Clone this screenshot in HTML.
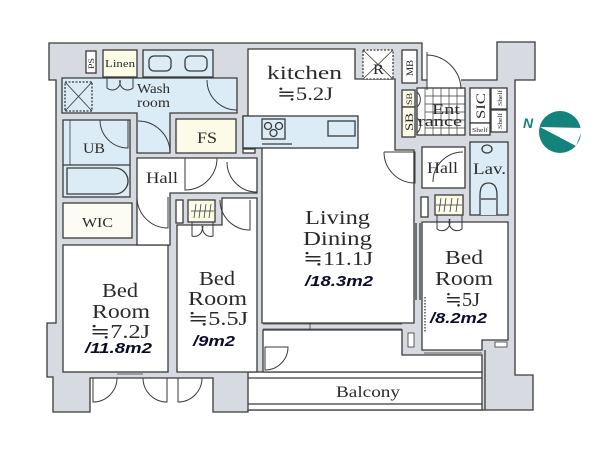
<!DOCTYPE html>
<html><head><meta charset="utf-8"><style>
html,body{margin:0;padding:0;background:#fff;}
svg{display:block;}
.s{font-family:"Liberation Serif","DejaVu Serif","Noto Serif CJK SC",serif;fill:#2a2a2a;}
.m{font-family:"Liberation Sans","DejaVu Sans",sans-serif;font-weight:bold;font-style:italic;fill:#0b0b2e;}
</style></head><body>
<svg width="602" height="458" viewBox="0 0 602 458" xmlns="http://www.w3.org/2000/svg">
<rect width="602" height="458" fill="#fff"/>
<g stroke="#3a3a3a" stroke-width="1.3">
<polygon fill="#d7dae1" points="49,43 422,43 422,80 497,80 497,42 535,42 535,80 515,80 515,375 533,375 533,410 248,410 248,412 213,412 213,378 90,378 90,412 53,412 53,377 47,377 47,323 56,323 56,80 49,80"/>
<rect x="427" y="79" width="34" height="10" fill="#fff" stroke="none"/>
<rect x="248" y="372" width="234" height="38" fill="#fff"/>
<line x1="248" y1="378" x2="482" y2="378"/>
<line x1="248" y1="404" x2="482" y2="404"/>
<polygon fill="#fff" points="263,330 402,330 402,355 482,355 482,372 263,372"/>
<line x1="485" y1="350" x2="485" y2="410"/>

<rect x="86" y="51" width="10" height="22" fill="#fff"/>
<rect x="103" y="50" width="34" height="27" fill="#fbfbe8"/>
<rect x="143" y="50" width="70" height="27" fill="#dcecf7"/>
<rect x="149" y="56" width="22" height="15" rx="5" fill="#dcecf7"/>
<rect x="185" y="56" width="22" height="15" rx="5" fill="#dcecf7"/>
<polygon fill="#dcecf7" points="62,78 237,78 237,113 170,113 170,153 137,153 137,113 62,113"/>
<rect x="65" y="82" width="27" height="29" fill="none" stroke-dasharray="2,1.5"/>
<path d="M65,82 L92,111 M92,82 L65,111" fill="none" stroke-width="0.9"/>
<rect x="63" y="120" width="67" height="77" fill="#dcecf7"/>
<line x1="63" y1="165" x2="130" y2="165"/>
<line x1="70" y1="120" x2="70" y2="165" stroke-width="0.8"/>
<path d="M67,168 H115 A13,13 0 0 1 115,194 H67 Z" fill="#dcecf7"/>
<rect x="63" y="203" width="69" height="35" fill="#fcfcf3"/>
<line x1="73" y1="247" x2="100" y2="247" stroke-dasharray="3,2"/>
<rect x="63" y="245" width="105" height="127" fill="#fff"/>
<polygon fill="#fff" points="137,158 257,158 257,193 170,193 170,245 137,245"/>
<polygon fill="#fff" points="222,198 257,198 257,372 177,372 177,225 222,225"/>
<rect x="176" y="200" width="7" height="23" fill="#fff"/>
<rect x="188" y="200" width="27" height="22" fill="#fbfbe8"/>
<rect x="176" y="119" width="60" height="34" fill="#fbfbe8"/>
<rect x="243" y="149" width="12" height="4" fill="#fff"/>
<polygon fill="#fff" points="248,49 355,49 355,79 395,79 395,150 414,150 414,323 262,323 262,148 243,148 243,116 248,116"/>
<rect x="243" y="116" width="115" height="32" fill="#dcecf7"/>
<rect x="262" y="119" width="23" height="20" fill="#dcecf7"/>
<circle cx="268" cy="126" r="3.5" fill="none"/><circle cx="279" cy="126" r="3.5" fill="none"/><circle cx="273.5" cy="133" r="3.5" fill="none"/>
<rect x="328" y="121" width="27" height="15" fill="#dcecf7"/>
<line x1="262" y1="144" x2="292" y2="144"/>
<rect x="363" y="50" width="30" height="29" fill="#fff" stroke-dasharray="2,1.5"/>
<path d="M363,50 L393,79 M393,50 L363,79" fill="none" stroke-width="0.8"/>
<rect x="402" y="50" width="15" height="33" fill="#fff"/>
<rect x="402" y="90" width="13" height="17" fill="#fbfbe8"/>
<rect x="402" y="107" width="13" height="30" fill="#fbfbe8"/>
<rect x="417" y="88" width="48" height="47" fill="#fff"/>
<g stroke-width="0.7" fill="none">
<path d="M425,96 H465 M425,104 H465 M425,112 H465 M425,120 H465 M425,128 H465 M433,88 V135 M441,88 V135 M449,88 V135 M457,88 V135 M425,88 V135"/>
</g>
<rect x="470" y="88" width="20" height="35" fill="#fff"/>
<rect x="491" y="88" width="16" height="21" fill="#fff"/>
<rect x="491" y="110" width="16" height="22" fill="#fff"/>
<rect x="470" y="123" width="20" height="12" fill="#fff"/>
<rect x="422" y="147" width="43" height="41" fill="#fff"/>
<rect x="470" y="142" width="38" height="73" fill="#dcecf7"/>
<ellipse cx="487" cy="149" rx="5" ry="4" fill="#dcecf7"/>
<path d="M480,215 V195 Q480,183 488.5,183 Q497,183 497,195 V215" fill="#dcecf7"/>
<line x1="481" y1="199" x2="496" y2="199"/>
<rect x="421" y="197" width="7" height="20" fill="#fff"/>
<rect x="435" y="195" width="28" height="20" fill="#fbfbe8"/>
<polygon fill="#fff" points="422,222 508,222 508,340 482,340 482,350 422,350"/>
<line x1="416" y1="223" x2="416" y2="300"/>
<line x1="420" y1="223" x2="420" y2="300"/>
<line x1="425" y1="297" x2="425" y2="333" stroke-dasharray="1.5,1.5"/>
<rect x="408" y="333" width="6" height="14" fill="#fff" stroke-width="0.8"/>
<rect x="495" y="342" width="12" height="5" fill="#fff" stroke-width="0.8"/>
<line x1="424" y1="353" x2="482" y2="353" stroke-width="0.8"/>
<line x1="263" y1="324" x2="402" y2="324" stroke-width="0.8"/>
<line x1="263" y1="329" x2="402" y2="329" stroke-width="0.8"/>
<line x1="310" y1="323" x2="310" y2="330" stroke-width="0.8"/>
<line x1="117" y1="374" x2="143" y2="374" stroke-width="0.8"/>

<g fill="none" stroke-width="1">
<path d="M100,120 A28,28 0 0 0 128,148 V120"/>
<path d="M138,121 A32,32 0 0 1 170,153"/>
<path d="M207,80 A30,30 0 0 0 237,110 V80"/>
<path d="M185,158 V190 A32,32 0 0 0 217,158"/>
<path d="M227,162 A30,30 0 0 0 257,192 V162"/>
<path d="M220,200 A30,30 0 0 0 250,230 V200"/>
<path d="M137,197 A31,31 0 0 0 168,228 V197"/>
<path d="M384,152 H415 V183 A31,31 0 0 1 384,152"/>
<path d="M427,52 V90 M427,55 A35,35 0 0 1 461,89"/>
<path d="M433,182 A30,30 0 0 1 463,152"/>
<path d="M93,378 V402 A24,24 0 0 0 117,378"/>
<path d="M167,378 V402 A24,24 0 0 1 143,378"/>
<path d="M178,378 V402 A24,24 0 0 0 202,378"/>
<path d="M265,347 H288 A23,23 0 0 1 265,370 Z"/>
<path d="M107,77 V88 A8,8 0 0 0 120,80 M133,77 V88 A8,8 0 0 1 120,80"/>
<path d="M192,222 V236 A8,8 0 0 0 202,226 M213,222 V236 A8,8 0 0 1 203,226"/>
<path d="M437,215 V229 A8,8 0 0 0 449,219 M462,215 V229 A8,8 0 0 1 450,219"/>
<path d="M417,92 A10,10 0 0 1 417,107 M417,118 A10,10 0 0 1 417,133"/>
<path d="M191,211 H214 M196,204 L194,218 M201,204 L199,218 M206,204 L204,218 M211,204 L209,218" stroke-width="0.8"/>
<path d="M436,205 H462 M441,198 L439,212 M446,198 L444,212 M452,198 L450,212 M458,198 L456,212" stroke-width="0.8"/>
</g>
</g>

<circle cx="560" cy="132" r="21" fill="#13837c"/>
<polygon points="540,127 583,128 576,146" fill="#fff"/>
<text x="523" y="128" font-family="Liberation Sans,sans-serif" font-weight="bold" font-style="italic" font-size="14" fill="#13837c">N</text>

<text class="s" x="267" y="79" font-size="19" textLength="75" lengthAdjust="spacingAndGlyphs">kitchen</text>
<text class="s" x="277" y="100" font-size="19" textLength="56" lengthAdjust="spacingAndGlyphs">≒5.2J</text>
<text class="s" x="137" y="93" font-size="14" textLength="33" lengthAdjust="spacingAndGlyphs">Wash</text>
<text class="s" x="137" y="107" font-size="14" textLength="33" lengthAdjust="spacingAndGlyphs">room</text>
<text class="s" x="105" y="67" font-size="10" textLength="30" lengthAdjust="spacingAndGlyphs">Linen</text>
<text class="s" x="197" y="143" font-size="16" textLength="20" lengthAdjust="spacingAndGlyphs">FS</text>
<text class="s" x="83" y="153" font-size="15" textLength="22" lengthAdjust="spacingAndGlyphs">UB</text>
<text class="s" x="146" y="183" font-size="16" textLength="32" lengthAdjust="spacingAndGlyphs">Hall</text>
<text class="s" x="82" y="227" font-size="14" textLength="31" lengthAdjust="spacingAndGlyphs">WIC</text>
<text class="s" x="102" y="297" font-size="20" textLength="36" lengthAdjust="spacingAndGlyphs">Bed</text>
<text class="s" x="92" y="318" font-size="20" textLength="58" lengthAdjust="spacingAndGlyphs">Room</text>
<text class="s" x="90" y="338" font-size="20" textLength="60" lengthAdjust="spacingAndGlyphs">≒7.2J</text>
<text class="m" x="85" y="353" font-size="15" textLength="67" lengthAdjust="spacingAndGlyphs">/11.8m2</text>
<text class="s" x="199" y="285" font-size="20" textLength="36" lengthAdjust="spacingAndGlyphs">Bed</text>
<text class="s" x="188" y="305" font-size="20" textLength="59" lengthAdjust="spacingAndGlyphs">Room</text>
<text class="s" x="188" y="325" font-size="20" textLength="60" lengthAdjust="spacingAndGlyphs">≒5.5J</text>
<text class="m" x="193" y="346" font-size="15" textLength="42" lengthAdjust="spacingAndGlyphs">/9m2</text>
<text class="s" x="305" y="224" font-size="20" textLength="65" lengthAdjust="spacingAndGlyphs">Living</text>
<text class="s" x="303" y="245" font-size="20" textLength="69" lengthAdjust="spacingAndGlyphs">Dining</text>
<text class="s" x="303" y="265" font-size="20" textLength="70" lengthAdjust="spacingAndGlyphs">≒11.1J</text>
<text class="m" x="305" y="286" font-size="15" textLength="68" lengthAdjust="spacingAndGlyphs">/18.3m2</text>
<text class="s" x="445" y="264" font-size="20" textLength="38" lengthAdjust="spacingAndGlyphs">Bed</text>
<text class="s" x="435" y="285" font-size="20" textLength="58" lengthAdjust="spacingAndGlyphs">Room</text>
<text class="s" x="445" y="306" font-size="20" textLength="35" lengthAdjust="spacingAndGlyphs">≒5J</text>
<text class="m" x="430" y="323" font-size="15" textLength="57" lengthAdjust="spacingAndGlyphs">/8.2m2</text>
<text class="s" x="336" y="397" font-size="16" textLength="64" lengthAdjust="spacingAndGlyphs">Balcony</text>
<text class="s" x="427" y="173" font-size="16" textLength="31" lengthAdjust="spacingAndGlyphs">Hall</text>
<text class="s" x="473" y="174" font-size="16" textLength="33" lengthAdjust="spacingAndGlyphs">Lav.</text>
<text class="s" x="432" y="114" font-size="15" textLength="28" lengthAdjust="spacingAndGlyphs">Ent</text>
<text class="s" x="418" y="126" font-size="15" textLength="44" lengthAdjust="spacingAndGlyphs">rance</text>
<text class="s" transform="translate(485,119) rotate(-90)" font-size="13" textLength="26" lengthAdjust="spacingAndGlyphs">SIC</text>
<text class="s" transform="translate(412,105) rotate(-90)" font-size="8" textLength="12" lengthAdjust="spacingAndGlyphs">SB</text>
<text class="s" transform="translate(413,131) rotate(-90)" font-size="12" textLength="18" lengthAdjust="spacingAndGlyphs">SB</text>
<text class="s" transform="translate(413,76) rotate(-90)" font-size="9" textLength="16" lengthAdjust="spacingAndGlyphs">MB</text>
<text class="s" transform="translate(94,69) rotate(-90)" font-size="8" textLength="11" lengthAdjust="spacingAndGlyphs">PS</text>
<text class="s" transform="translate(502,106) rotate(-90)" font-size="6" textLength="16" lengthAdjust="spacingAndGlyphs">Shelf</text>
<text class="s" transform="translate(502,129) rotate(-90)" font-size="6" textLength="16" lengthAdjust="spacingAndGlyphs">Shelf</text>
<text class="s" x="472" y="132" font-size="6" textLength="16" lengthAdjust="spacingAndGlyphs">Shelf</text>
<text class="s" x="373" y="74" font-size="15" textLength="11" lengthAdjust="spacingAndGlyphs">R</text>
</svg>
</body></html>
